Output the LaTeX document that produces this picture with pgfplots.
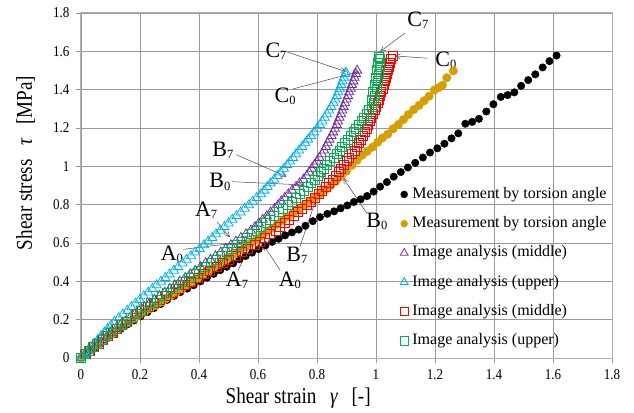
\documentclass[border=0pt]{standalone}
\usepackage{fontspec}
\setmainfont{Liberation Serif}
\newfontfamily\tickfont{Liberation Serif}[FakeStretch=0.87]
\newfontfamily\labfont{Liberation Serif}[FakeStretch=0.85]
\usepackage{pgfplots}
\pgfplotsset{compat=1.18}
\usetikzlibrary{arrows.meta}

\definecolor{cblack}{RGB}{0,0,0}
\definecolor{cgold}{RGB}{214,158,0}
\definecolor{cpurple}{RGB}{112,48,160}
\definecolor{ccyan}{RGB}{0,176,240}
\definecolor{cred}{RGB}{255,0,0}
\definecolor{cgreen}{RGB}{0,176,80}
\definecolor{arrowgray}{RGB}{70,70,70}

\newcommand{\lab}[2]{#1\raisebox{-0.2ex}{\fontsize{12.5}{12.5}\selectfont #2}}

\begin{document}
\begin{tikzpicture}
\path[use as bounding box] (-81pt,-54pt) rectangle (553pt,358pt);
\begin{axis}[
  scale only axis, width=531pt, height=345pt,
  xmin=0, xmax=1.8, ymin=0, ymax=1.8,
  xtick={0,0.2,0.4,0.6,0.8,1,1.2,1.4,1.6,1.8},
  ytick={0,0.2,0.4,0.6,0.8,1,1.2,1.4,1.6,1.8},
  grid=major, grid style={draw=gray!80, line width=0.7pt},
  axis line style={draw=gray!60, line width=1pt},
  tick align=outside, major tick length=5pt,
  tick style={draw=gray!80, line width=0.7pt},
  xtick pos=bottom, ytick pos=left,
  /pgf/number format/assume math mode=true,
  ticklabel style={font=\tickfont\fontsize{15}{15}\selectfont},
  xticklabel style={yshift=-3pt},
  yticklabel style={xshift=-3pt},
  clip=false,
  xlabel={Shear strain\hspace{0.6em}\textit{γ}\hspace{0.6em}[-]},
  ylabel={Shear stress\hspace{0.6em}\textit{τ}\hspace{0.6em}[MPa]},
  xlabel style={at={(axis description cs:0.409,-0.1333)}, anchor=base,
    font=\labfont\fontsize{22.5}{22.5}\selectfont},
  ylabel style={at={(axis description cs:-0.0923,0.565)}, anchor=base,
    font=\labfont\fontsize{22.5}{22.5}\selectfont},
  legend style={at={(axis description cs:0.6004,0.4957)}, anchor=north west,
    draw=none, fill=none, font=\fontsize{16}{16}\selectfont,
    row sep=14.8pt, inner sep=0pt,
    nodes={inner sep=0pt, text height=11pt, text depth=3.5pt},
    /tikz/every odd column/.append style={column sep=4pt}},
  legend cell align=left,
  legend image code/.code={\draw[#1] plot coordinates {(0pt,0pt)};},
]

\addplot[only marks, mark=*, mark size=3.75pt, draw=cblack, fill=cblack,
  legend image post style={mark size=3.5pt}] table {
x y
0 0
0.022 0.026
0.045 0.052
0.067 0.077
0.090 0.104
0.112 0.128
0.135 0.152
0.157 0.175
0.180 0.196
0.202 0.217
0.225 0.239
0.247 0.260
0.270 0.282
0.292 0.303
0.315 0.324
0.337 0.344
0.360 0.362
0.382 0.380
0.405 0.400
0.427 0.419
0.450 0.439
0.472 0.458
0.494 0.476
0.516 0.494
0.537 0.515
0.558 0.532
0.580 0.550
0.602 0.568
0.625 0.588
0.648 0.606
0.670 0.622
0.692 0.640
0.715 0.655
0.738 0.670
0.761 0.690
0.786 0.714
0.810 0.735
0.835 0.752
0.858 0.765
0.880 0.781
0.903 0.796
0.925 0.814
0.948 0.828
0.970 0.845
0.992 0.868
1.014 0.894
1.037 0.918
1.060 0.946
1.084 0.970
1.108 0.994
1.133 1.018
1.159 1.046
1.183 1.072
1.208 1.094
1.232 1.118
1.256 1.146
1.279 1.172
1.303 1.222
1.326 1.232
1.349 1.248
1.374 1.286
1.398 1.324
1.423 1.362
1.446 1.372
1.469 1.386
1.492 1.420
1.516 1.450
1.540 1.480
1.565 1.516
1.588 1.549
1.612 1.578
};
\addlegendentry{Measurement by torsion angle}

\addplot[only marks, mark=*, mark size=4.25pt, draw=cgold, fill=cgold,
  legend image post style={mark size=3.5pt}] table {
x y
0 0
0.018 0.021
0.036 0.043
0.054 0.064
0.072 0.086
0.090 0.108
0.108 0.129
0.126 0.148
0.144 0.166
0.162 0.185
0.180 0.204
0.198 0.223
0.216 0.240
0.234 0.257
0.252 0.274
0.270 0.291
0.288 0.309
0.306 0.326
0.324 0.344
0.342 0.362
0.360 0.380
0.378 0.398
0.396 0.416
0.414 0.434
0.432 0.452
0.450 0.470
0.468 0.488
0.486 0.505
0.504 0.524
0.522 0.543
0.540 0.562
0.558 0.581
0.576 0.600
0.594 0.619
0.612 0.638
0.630 0.658
0.648 0.678
0.666 0.698
0.684 0.717
0.702 0.737
0.720 0.757
0.738 0.777
0.756 0.797
0.774 0.817
0.792 0.837
0.810 0.857
0.828 0.877
0.846 0.899
0.864 0.923
0.882 0.948
0.900 0.975
0.918 1.005
0.936 1.032
0.953 1.058
0.970 1.078
0.988 1.100
1.006 1.126
1.022 1.148
1.040 1.168
1.058 1.196
1.076 1.218
1.093 1.244
1.110 1.270
1.128 1.296
1.146 1.318
1.163 1.342
1.180 1.366
1.198 1.398
1.212 1.410
1.225 1.423
1.240 1.462
1.262 1.498
};
\addlegendentry{Measurement by torsion angle}

\addplot[only marks, mark=triangle, mark size=5.3pt, draw=cpurple, line width=0.8pt,
  legend image post style={mark size=4.6pt}] table {
x y
0 0
0.015 0.019
0.029 0.038
0.044 0.057
0.058 0.076
0.073 0.095
0.088 0.114
0.102 0.133
0.118 0.152
0.134 0.171
0.150 0.190
0.166 0.209
0.182 0.228
0.197 0.247
0.215 0.266
0.232 0.285
0.249 0.304
0.266 0.323
0.284 0.342
0.301 0.361
0.318 0.380
0.335 0.399
0.353 0.418
0.370 0.437
0.387 0.456
0.405 0.475
0.422 0.494
0.439 0.513
0.456 0.532
0.474 0.551
0.491 0.570
0.508 0.589
0.525 0.608
0.542 0.627
0.559 0.646
0.576 0.665
0.590 0.684
0.603 0.703
0.616 0.722
0.630 0.741
0.643 0.760
0.656 0.779
0.668 0.798
0.679 0.817
0.691 0.836
0.703 0.855
0.716 0.874
0.729 0.893
0.741 0.912
0.754 0.931
0.765 0.950
0.773 0.969
0.782 0.988
0.791 1.007
0.800 1.026
0.808 1.045
0.817 1.064
0.824 1.083
0.830 1.102
0.836 1.121
0.842 1.140
0.849 1.159
0.855 1.178
0.861 1.197
0.867 1.216
0.871 1.235
0.876 1.254
0.881 1.273
0.886 1.292
0.890 1.311
0.895 1.330
0.900 1.349
0.905 1.368
0.909 1.387
0.914 1.406
0.918 1.425
0.923 1.444
0.927 1.463
0.932 1.482
0.936 1.500
};
\addlegendentry{Image analysis (middle)}

\addplot[only marks, mark=triangle, mark size=5.3pt, draw=ccyan, line width=0.8pt,
  legend image post style={mark size=4.6pt}] table {
x y
0 0
0.011 0.019
0.023 0.038
0.034 0.057
0.045 0.076
0.057 0.095
0.068 0.114
0.079 0.133
0.090 0.152
0.102 0.171
0.114 0.190
0.128 0.209
0.142 0.228
0.157 0.247
0.171 0.266
0.185 0.285
0.199 0.304
0.213 0.323
0.228 0.342
0.242 0.361
0.256 0.380
0.271 0.399
0.286 0.418
0.300 0.437
0.315 0.456
0.329 0.475
0.344 0.494
0.358 0.513
0.373 0.532
0.387 0.551
0.402 0.570
0.417 0.589
0.431 0.608
0.445 0.627
0.458 0.646
0.472 0.665
0.486 0.684
0.500 0.703
0.513 0.722
0.527 0.741
0.541 0.760
0.555 0.779
0.569 0.798
0.582 0.817
0.596 0.836
0.610 0.855
0.621 0.874
0.632 0.893
0.643 0.912
0.655 0.931
0.666 0.950
0.677 0.969
0.688 0.988
0.699 1.007
0.709 1.026
0.719 1.045
0.729 1.064
0.739 1.083
0.750 1.102
0.760 1.121
0.770 1.140
0.780 1.159
0.790 1.178
0.800 1.197
0.810 1.216
0.818 1.235
0.826 1.254
0.833 1.273
0.841 1.292
0.848 1.311
0.856 1.330
0.862 1.349
0.867 1.368
0.872 1.387
0.877 1.406
0.882 1.425
0.886 1.444
0.891 1.463
0.896 1.482
0.898 1.490
};
\addlegendentry{Image analysis (upper)}

\addplot[only marks, mark=square, mark size=4.5pt, draw=cred, line width=0.8pt,
  legend image post style={mark size=4.2pt}] table {
x y
0 0
0.015 0.019
0.029 0.038
0.044 0.057
0.059 0.076
0.075 0.095
0.091 0.114
0.107 0.133
0.122 0.152
0.138 0.171
0.154 0.190
0.169 0.209
0.188 0.228
0.207 0.247
0.227 0.266
0.248 0.285
0.269 0.304
0.289 0.323
0.310 0.342
0.331 0.361
0.353 0.380
0.374 0.399
0.395 0.418
0.417 0.437
0.438 0.456
0.459 0.475
0.481 0.494
0.502 0.513
0.524 0.532
0.545 0.551
0.566 0.570
0.588 0.589
0.607 0.608
0.625 0.627
0.642 0.646
0.660 0.665
0.675 0.684
0.690 0.703
0.706 0.722
0.721 0.741
0.735 0.760
0.750 0.779
0.765 0.798
0.779 0.817
0.794 0.836
0.806 0.855
0.818 0.874
0.830 0.893
0.842 0.912
0.854 0.931
0.865 0.950
0.873 0.969
0.882 0.988
0.891 1.007
0.900 1.026
0.909 1.045
0.918 1.064
0.927 1.083
0.934 1.102
0.941 1.121
0.948 1.140
0.955 1.159
0.962 1.178
0.969 1.197
0.974 1.216
0.979 1.235
0.984 1.254
0.990 1.273
0.995 1.292
1.000 1.311
1.005 1.330
1.009 1.349
1.013 1.368
1.018 1.387
1.022 1.406
1.027 1.425
1.031 1.444
1.034 1.463
1.038 1.482
1.041 1.501
1.044 1.520
1.048 1.539
1.052 1.558
1.056 1.575
};
\addlegendentry{Image analysis (middle)}

\addplot[only marks, mark=square, mark size=4.5pt, draw=cgreen, line width=0.8pt,
  legend image post style={mark size=4.2pt}] table {
x y
0 0
0.014 0.019
0.027 0.038
0.041 0.057
0.055 0.076
0.070 0.095
0.086 0.114
0.101 0.133
0.117 0.152
0.134 0.171
0.151 0.190
0.168 0.209
0.185 0.228
0.202 0.247
0.220 0.266
0.238 0.285
0.256 0.304
0.274 0.323
0.292 0.342
0.310 0.361
0.329 0.380
0.347 0.399
0.365 0.418
0.383 0.437
0.401 0.456
0.420 0.475
0.439 0.494
0.458 0.513
0.477 0.532
0.496 0.551
0.513 0.570
0.530 0.589
0.547 0.608
0.564 0.627
0.581 0.646
0.597 0.665
0.611 0.684
0.626 0.703
0.640 0.722
0.655 0.741
0.670 0.760
0.684 0.779
0.702 0.798
0.716 0.817
0.729 0.836
0.742 0.855
0.755 0.874
0.768 0.893
0.781 0.912
0.792 0.931
0.803 0.950
0.813 0.969
0.824 0.988
0.835 1.007
0.845 1.026
0.856 1.045
0.867 1.064
0.877 1.083
0.886 1.102
0.896 1.121
0.905 1.140
0.915 1.159
0.924 1.178
0.933 1.197
0.942 1.216
0.951 1.235
0.959 1.254
0.968 1.273
0.977 1.292
0.985 1.311
0.992 1.330
0.986 1.349
0.996 1.368
0.991 1.387
1.002 1.406
0.996 1.425
1.006 1.444
0.999 1.463
1.009 1.482
1.003 1.501
1.012 1.520
1.006 1.539
1.014 1.558
1.011 1.570
};
\addlegendentry{Image analysis (upper)}

% annotation leaders
\begin{scope}[draw=arrowgray, line width=0.5pt, -{Straight Barb[length=5pt,width=5pt]}]
\draw (axis cs:0.698,1.597) -- (axis cs:0.898,1.494);
\draw (axis cs:0.719,1.404) -- (axis cs:0.942,1.494);
\draw (axis cs:1.098,1.695) -- (axis cs:1.014,1.599);
\draw (axis cs:1.175,1.564) -- (axis cs:1.064,1.576);
\draw (axis cs:0.527,1.060) -- (axis cs:0.697,0.946);
\draw (axis cs:0.511,0.920) -- (axis cs:0.754,0.903);
\draw (axis cs:0.460,0.711) -- (axis cs:0.505,0.630);
\draw (axis cs:0.347,0.567) -- (axis cs:0.562,0.607);
\draw (axis cs:0.742,0.581) -- (axis cs:0.827,0.965);
\draw (axis cs:0.533,0.459) -- (axis cs:0.573,0.590);
\draw (axis cs:0.675,0.459) -- (axis cs:0.618,0.590);
\draw (axis cs:0.969,0.755) -- (axis cs:0.889,0.938);
\end{scope}
\begin{scope}[every node/.style={font=\fontsize{22}{22}\selectfont, inner sep=0pt}]
\node at (axis cs:0.661,1.602) {\lab{C}{7}};
\node at (axis cs:0.692,1.367) {\lab{C}{0}};
\node at (axis cs:1.142,1.764) {\lab{C}{7}};
\node at (axis cs:1.237,1.555) {\lab{C}{0}};
\node at (axis cs:0.481,1.086) {\lab{B}{7}};
\node at (axis cs:0.471,0.919) {\lab{B}{0}};
\node at (axis cs:0.424,0.772) {\lab{A}{7}};
\node at (axis cs:0.308,0.543) {\lab{A}{0}};
\node at (axis cs:0.732,0.538) {\lab{B}{7}};
\node at (axis cs:0.529,0.407) {\lab{A}{7}};
\node at (axis cs:0.708,0.407) {\lab{A}{0}};
\node at (axis cs:1.003,0.715) {\lab{B}{0}};
\end{scope}
\end{axis}
\end{tikzpicture}
\end{document}
